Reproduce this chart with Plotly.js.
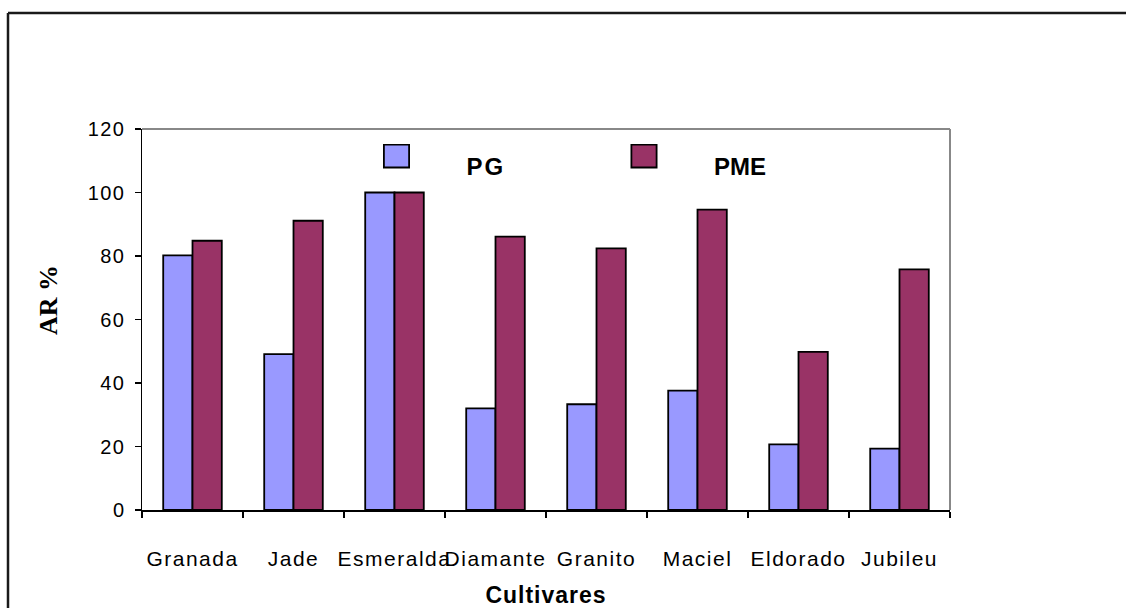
<!DOCTYPE html>
<html>
<head>
<meta charset="utf-8">
<script src="https://cdn.plot.ly/plotly-3.0.1.min.js"></script>
<style>
  html, body { margin: 0; padding: 0; background: #fff; }
  #chart { width: 1126px; height: 608px; }
  .xtick text, .ytick text { letter-spacing: 1.5px; }
  .xtitle { letter-spacing: 1px; }
  .legendtext { letter-spacing: 2px; }
  .legendpoints path { transform: translate(70px, -10px) scale(2.1, 1.9); vector-effect: non-scaling-stroke; }
</style>
</head>
<body>
<div id="chart"></div>
<script>
const categories = ["Granada", "Jade", "Esmeralda", "Diamante", "Granito", "Maciel", "Eldorado", "Jubileu"];
const pgValues  = [80.2, 49.1, 100, 32.0, 33.3, 37.6, 20.7, 19.3];
const pmeValues = [84.8, 91.1, 100, 86.1, 82.4, 94.6, 49.8, 75.8];
const yTickValues = [0, 20, 40, 60, 80, 100, 120];

const traces = [
  {
    type: "bar", name: "PG", x: categories, y: pgValues, legend: "legend",
    marker: { color: "#9999FF", line: { color: "#000000", width: 1.8 } }
  },
  {
    type: "bar", name: "PME", x: categories, y: pmeValues, legend: "legend2",
    marker: { color: "#993366", line: { color: "#000000", width: 1.8 } }
  }
];

const xTickFont = { family: "Liberation Sans, Arial, sans-serif", size: 21, color: "#000" };
const yTickFont = { family: "Liberation Sans, Arial, sans-serif", size: 20, color: "#000" };
const legendFont = { family: "Liberation Sans, Arial, sans-serif", size: 24, color: "#000", weight: 700 };

const layout = {
  width: 1126, height: 608,
  margin: { l: 142, r: 176, t: 129, b: 98, pad: 0 },
  paper_bgcolor: "#ffffff", plot_bgcolor: "#ffffff",
  barmode: "group", bargap: 0.42, bargroupgap: 0,
  showlegend: true,
  legend: {
    x: (326.5 - 142) / 808, y: (510 - 144) / 381, xanchor: "left", yanchor: "top",
    orientation: "h", bgcolor: "rgba(0,0,0,0)", borderwidth: 0,
    font: legendFont, itemwidth: 130
  },
  legend2: {
    x: (574 - 142) / 808, y: (510 - 144) / 381, xanchor: "left", yanchor: "top",
    orientation: "h", bgcolor: "rgba(0,0,0,0)", borderwidth: 0,
    font: legendFont, itemwidth: 130
  },
  xaxis: {
    type: "category",
    tickson: "boundaries", tickangle: 0,
    ticks: "outside", ticklen: 6, tickwidth: 1.2, tickcolor: "#000",
    showline: true, linecolor: "#000", linewidth: 1.5,
    showgrid: false, zeroline: false,
    tickfont: xTickFont, ticklabelstandoff: 29,
    automargin: false,
    title: { text: "Cultivares", font: { family: "Liberation Sans, Arial, sans-serif", size: 23, color: "#000", weight: 700 }, standoff: 26 }
  },
  yaxis: {
    range: [0, 120], tickvals: yTickValues, ticktext: yTickValues.map(String),
    ticks: "outside", ticklen: 6, tickwidth: 1.2, tickcolor: "#000",
    showline: true, linecolor: "#000", linewidth: 1.5,
    showgrid: false, zeroline: false,
    tickfont: yTickFont, ticklabelstandoff: 5,
    automargin: false, fixedrange: true
  },
  shapes: [
    { type: "line", xref: "paper", yref: "paper", x0: 0, x1: 1, y0: 1, y1: 1, line: { color: "#888888", width: 2 } },
    { type: "line", xref: "paper", yref: "paper", x0: 1, x1: 1, y0: 0, y1: 1, line: { color: "#888888", width: 2 } },
    { type: "line", xref: "paper", yref: "paper", x0: (8 - 142) / 808, x1: (1130 - 142) / 808, y0: (510 - 13) / 381, y1: (510 - 13) / 381, line: { color: "#1a1a1a", width: 2.5 } },
    { type: "line", xref: "paper", yref: "paper", x0: (8 - 142) / 808, x1: (8 - 142) / 808, y0: (510 - 13) / 381, y1: (510 - 620) / 381, line: { color: "#1a1a1a", width: 2.5 } }
  ],
  annotations: [
    {
      text: "AR %", xref: "paper", yref: "paper",
      x: (48 - 142) / 808, y: (510 - 300) / 381, xanchor: "center", yanchor: "middle",
      textangle: -90, showarrow: false,
      font: { family: "Liberation Serif, Times New Roman, serif", size: 26, color: "#000", weight: 700 }
    }
  ]
};

Plotly.newPlot("chart", traces, layout, { displayModeBar: false, staticPlot: true });
</script>
</body>
</html>
